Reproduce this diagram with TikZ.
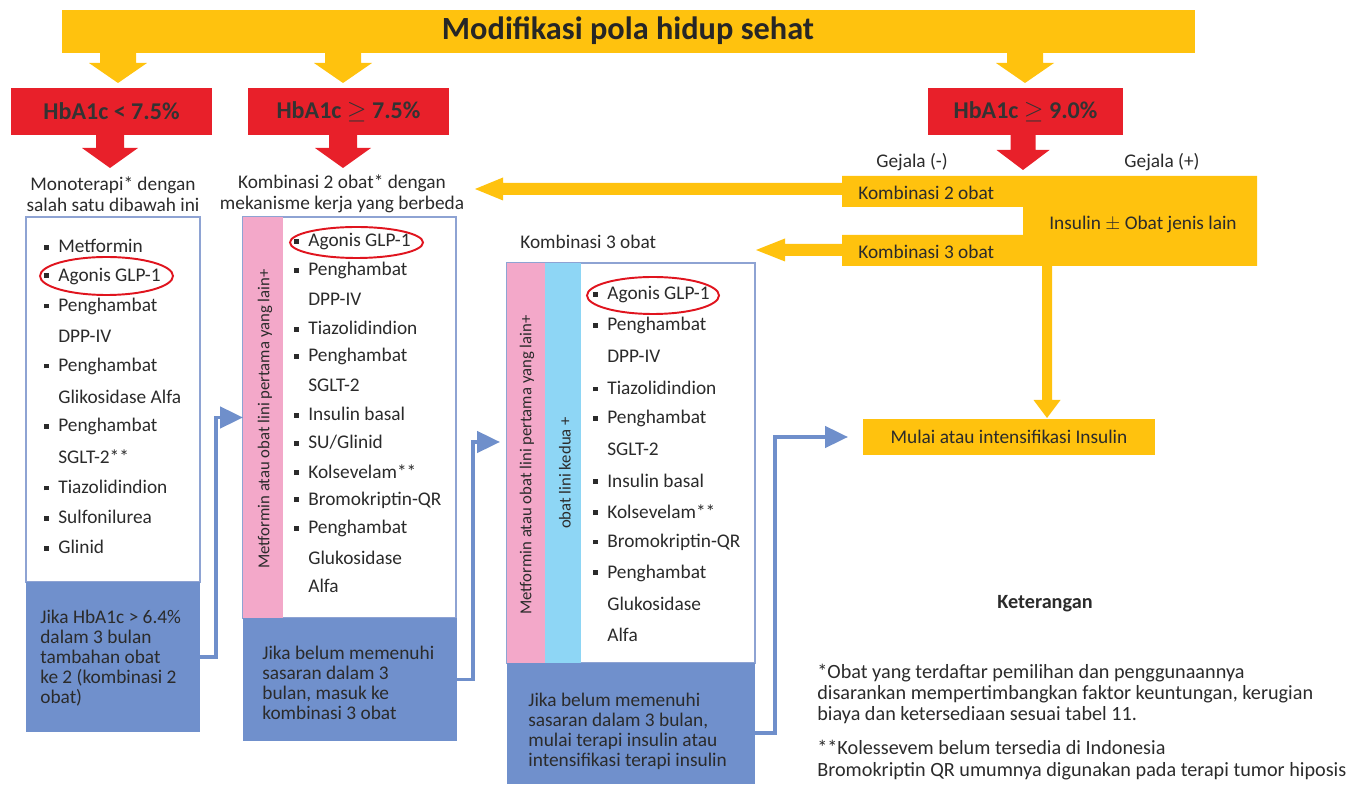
\documentclass[tikz,border=0pt]{standalone}
\usepackage{fontspec}
\setmainfont{Carlito}
\usepackage{xcolor}
\usepackage{tikz}
\usetikzlibrary{positioning,calc,fit,arrows.meta}

\definecolor{kuning}{HTML}{FFC20E}
\definecolor{merah}{HTML}{E8202A}
\definecolor{merahring}{HTML}{E0141E}
\definecolor{biru}{HTML}{7090CC}
\definecolor{birugaris}{HTML}{6F8FCB}
\definecolor{bingkai}{HTML}{8EA3D3}
\definecolor{merahmuda}{HTML}{F3A8C9}
\definecolor{birumuda}{HTML}{8ED6F5}
\definecolor{teks}{HTML}{2B2B2B}

\newcommand{\isi}{\fontsize{11}{12.5}\selectfont}
\newcommand{\bul}{\llap{\rule[1.7pt]{2.7pt}{2.7pt}\hspace{5.5pt}}}
% panah blok: warna, x, y atas, y kepala, y ujung, setengah batang, setengah kepala
\newcommand{\panahbawah}[7]{\fill[#1] ({#2-#6},#3) -- ({#2+#6},#3) -- ({#2+#6},#4) -- ({#2+#7},#4) -- (#2,#5) -- ({#2-#7},#4) -- ({#2-#6},#4) -- cycle;}
% warna, y, x awal, x kepala, x ujung, setengah batang, setengah kepala
\newcommand{\panahkiri}[7]{\fill[#1] (#3,{#2-#6}) -- (#3,{#2+#6}) -- (#4,{#2+#6}) -- (#4,{#2+#7}) -- (#5,#2) -- (#4,{#2-#7}) -- (#4,{#2-#6}) -- cycle;}

\tikzset{
  kotak/.style={inner sep=0pt, outer sep=0pt},
  judul/.style={font=\bfseries\fontsize{18.4}{20}\selectfont, text=black!85},
  hba/.style={font=\bfseries\fontsize{13.7}{15}\selectfont, text=black!80},
  daftar/.style={kotak, draw=bingkai, line width=0.6pt, fill=white},
  jalur/.style={kotak, fill=#1},
  catatan/.style={kotak, fill=biru},
  teksbiru/.style={anchor=west, align=left, inner sep=0pt, font=\fontsize{11}{11.4}\selectfont},
  butir/.style={anchor=west, inner sep=0pt},
  tegak/.style={rotate=90, inner sep=0pt, font=\fontsize{9.5}{11}\selectfont},
  cincin/.style={draw=merahring, line width=1.1pt},
  alir/.style={draw=birugaris, line width=2.2pt, -{Triangle[length=13pt,width=12pt]}},
  blokkuning/.style={kotak, fill=kuning},
  blokmerah/.style={kotak, fill=merah}
}

\begin{document}
\begin{tikzpicture}[x=0.02cm, y=-0.02cm, every node/.style={text=teks, font=\isi}]
  \useasboundingbox (0,0) rectangle (1359,786);

  \node[blokkuning, fit={(62,10) (1195,53)}] (gaya) {};
  \node[judul] (gayat) at (628,31) {Modifikasi pola hidup sehat};
  \panahbawah{kuning}{118}{53}{63}{83}{18}{29}
  \panahbawah{kuning}{343}{53}{63}{83}{18}{29}
  \panahbawah{kuning}{1025}{53}{63}{83}{18}{29}

  \node[blokmerah, fit={(11,88) (212,135)}] (hb1) {};
  \node[blokmerah, fit={(248,88) (449,135)}] (hb2) {};
  \node[blokmerah, fit={(928,88) (1123,135)}] (hb3) {};
  \node[hba] (hb1t) at (hb1) {HbA1c < 7.5\%};
  \node[hba] (hb2t) at (hb2) {HbA1c $\geq$ 7.5\%};
  \node[hba] (hb3t) at (hb3) {HbA1c $\geq$ 9.0\%};
  \panahbawah{merah}{110}{135}{148}{168}{14}{28}
  \panahbawah{merah}{343}{135}{148}{168}{14}{28}
  \panahbawah{merah}{1023}{135}{150}{170}{12.5}{26.5}

  \node[align=center, font=\fontsize{11}{11.9}\selectfont] (mono) at (113,194) {Monoterapi* dengan\\salah satu dibawah ini};
  \node[align=center, font=\fontsize{11}{11.9}\selectfont] (dua) at (342,194) {Kombinasi 2 obat* dengan\\mekanisme kerja yang berbeda};
  \node[butir] (tiga) at (520,242) {Kombinasi 3 obat};
  \node (gejmin) at (912,162) {Gejala (-)};
  \node (gejplus) at (1162,162) {Gejala (+)};

  % blok kuning gejala
  \fill[kuning] (842,176) -- (1257,176) -- (1257,266) -- (842,266) -- (842,235)
    -- (1023,235) -- (1023,207) -- (842,207) -- cycle;
  \node[butir] (komb2) at (858,193) {Kombinasi 2 obat};
  \node[butir] (komb3) at (858,252) {Kombinasi 3 obat};
  \node (insulin) at (1143,224) {Insulin $\pm$ Obat jenis lain};
  \panahkiri{kuning}{189}{843}{503}{475}{6}{11.5}
  \panahkiri{kuning}{250}{843}{785}{756}{6}{11.5}
  \panahbawah{kuning}{1047}{266}{400}{418}{5}{13.5}
  \node[blokkuning, fit={(863,419) (1155,455)}] (mulai) {};
  \node (mulait) at (mulai) {Mulai atau intensifikasi Insulin};

  % kotak 1
  \node[daftar, fit={(26,217) (200,582)}] (daftar1) {};
  \node[catatan, fit={(26,582) (200,732)}] (jika1) {};
  \foreach \t [count=\i] in {\bul Metformin, \bul Agonis GLP-1, \bul Penghambat, DPP-IV,
      \bul Penghambat, Glikosidase Alfa, \bul Penghambat, SGLT-2**, \bul Tiazolidindion,
      \bul Sulfonilurea, \bul Glinid}
    \node[butir] (d1-\i) at (58,{246+30.1*(\i-1)}) {\t};
  \draw[cincin] (106.5,276) ellipse [x radius=1.33cm, y radius=0.38cm];
  \node[teksbiru] (jika1t) at (40,658) {Jika HbA1c > 6.4\%\\dalam 3 bulan\\tambahan obat\\ke 2 (kombinasi 2\\obat)};

  % kotak 2
  \node[daftar, fit={(243,217) (456,618)}] (daftar2) {};
  \node[jalur=merahmuda, fit={(243,217) (283,618)}] (pink2) {};
  \node[catatan, fit={(243,618) (457,741)}] (jika2) {};
  \node[tegak] (tegak2) at (265,419) {Metformin atau obat lini pertama yang lain+};
  \foreach \t [count=\i] in {\bul Agonis GLP-1, \bul Penghambat, DPP-IV, \bul Tiazolidindion,
      \bul Penghambat, SGLT-2, \bul Insulin basal, \bul SU/Glinid, \bul Kolsevelam**,
      \bul Bromokriptin-QR, \bul Penghambat, Glukosidase, Alfa}
    \node[butir] (d2-\i) at (308,{242+28.67*(\i-1)}) {\t};
  \draw[cincin] (356.5,242.5) ellipse [x radius=1.33cm, y radius=0.31cm];
  \node[teksbiru] (jika2t) at (262,683) {Jika belum memenuhi\\sasaran dalam 3\\bulan, masuk ke\\kombinasi 3 obat};

  % kotak 3
  \node[daftar, fit={(507,263) (755,663)}] (daftar3) {};
  \node[jalur=merahmuda, fit={(507,263) (545,663)}] (pink3) {};
  \node[jalur=birumuda, fit={(545,263) (581,663)}] (cyan3) {};
  \node[catatan, fit={(507,663) (755,784)}] (jika3) {};
  \node[tegak] (tegak3) at (527,465) {Metformin atau obat lini pertama yang lain+};
  \node[tegak] (tegak3b) at (565,473) {obat lini kedua +};
  \foreach \t [count=\i] in {\bul Agonis GLP-1, \bul Penghambat, DPP-IV, \bul Tiazolidindion,
      \bul Penghambat, SGLT-2, \bul Insulin basal, \bul Kolsevelam**, \bul Bromokriptin-QR,
      \bul Penghambat, Glukosidase, Alfa}
    \node[butir] (d3-\i) at (607,{295+30.9*(\i-1)}) {\t};
  \draw[cincin] (653,295.5) ellipse [x radius=1.32cm, y radius=0.37cm];
  \node[teksbiru] (jika3t) at (528,731.5) {Jika belum memenuhi\\sasaran dalam 3 bulan,\\mulai terapi insulin atau\\intensifikasi terapi insulin};

  % panah biru
  \coordinate (masuk3) at (500,442);
  \coordinate (masuk4) at (848,437);
  \draw[alir] (jika1.east) -- ++(16,0) |- (daftar2.west);
  \draw[alir] (jika2.east) -- ++(16,0) |- (masuk3);
  \draw[alir] ($(jika3.east)+(0,9.5)$) -- ++(20,0) |- (masuk4);

  % keterangan
  \node[font=\bfseries\fontsize{11.5}{13}\selectfont] (ket) at (1045,604) {Keterangan};
  \node[teksbiru, font=\fontsize{11.5}{12.2}\selectfont] (cat1) at (817,694) {*Obat yang terdaftar pemilihan dan penggunaannya\\disarankan mempertimbangkan faktor keuntungan, kerugian\\biaya dan ketersediaan sesuai tabel 11.};
  \node[teksbiru, font=\fontsize{11.5}{12.6}\selectfont] (cat2) at (817,760) {**Kolessevem belum tersedia di Indonesia\\Bromokriptin QR umumnya digunakan pada terapi tumor hiposis};
\end{tikzpicture}
\end{document}
